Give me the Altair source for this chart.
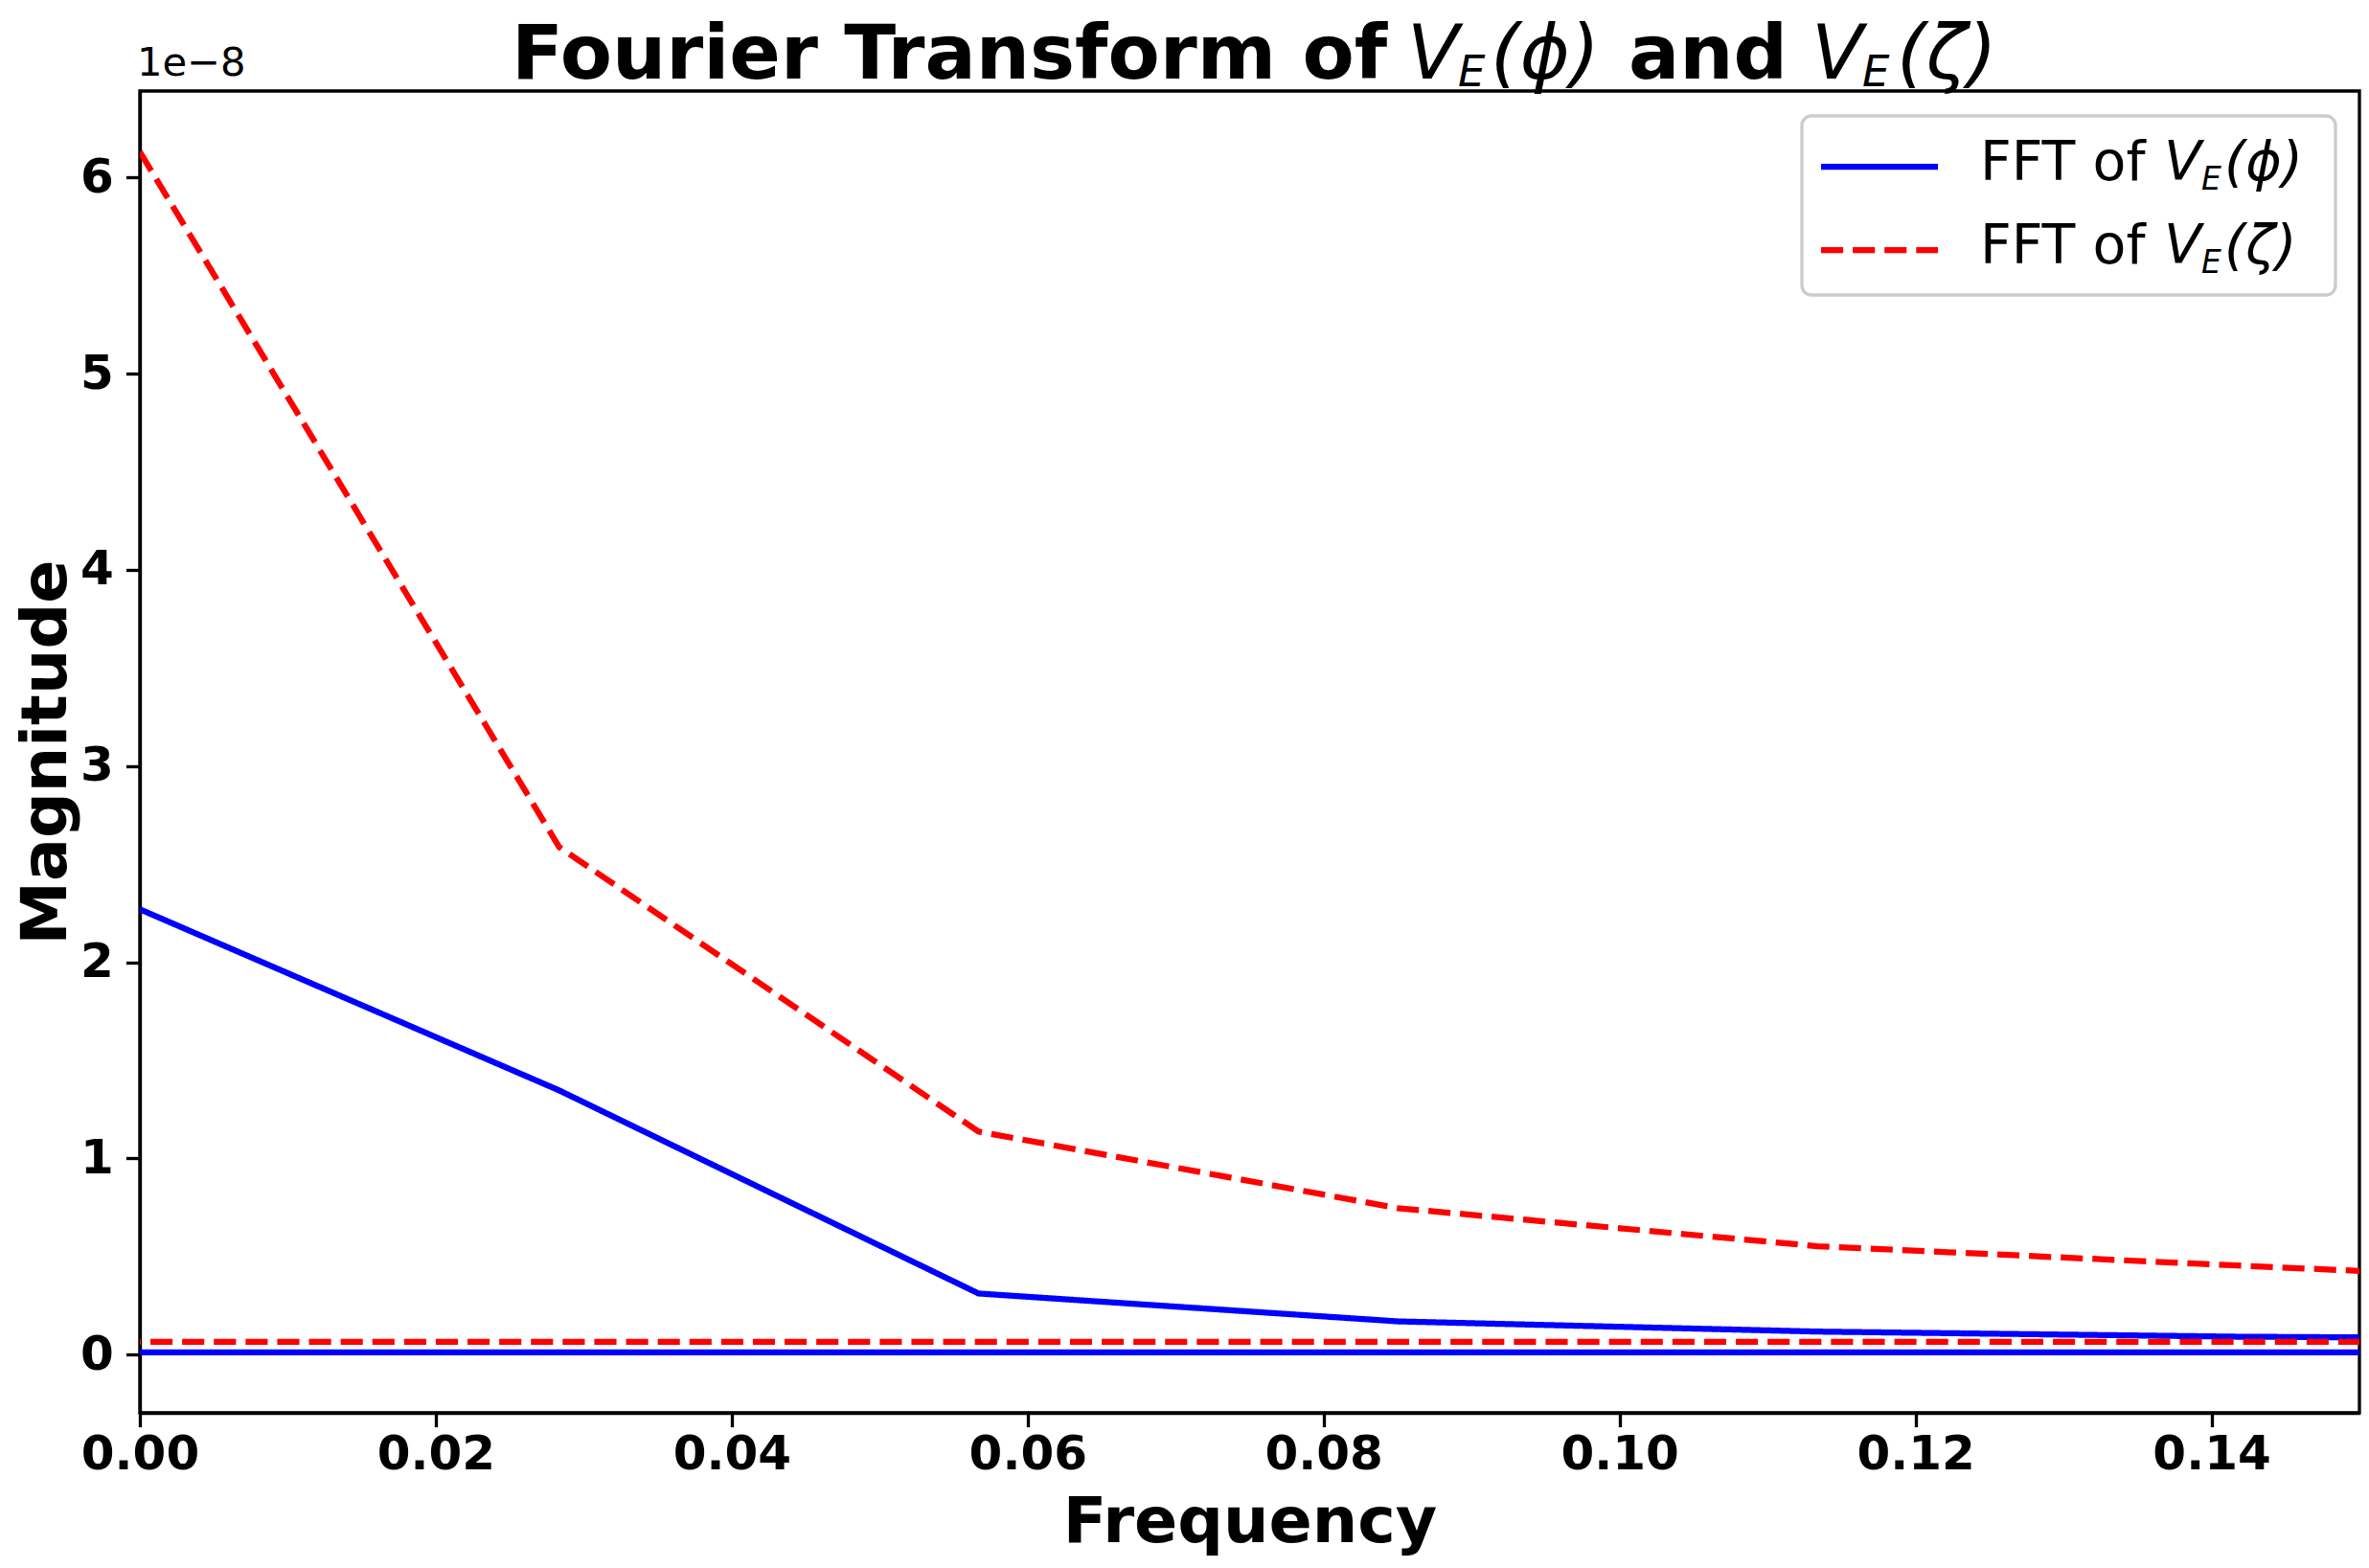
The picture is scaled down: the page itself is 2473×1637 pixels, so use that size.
import altair as alt
import pandas as pd

# ---- data (magnitudes in units of 1e-8) ----
freq = [0.0, 0.02834, 0.05668, 0.08502, 0.11336, 0.1417, 0.17004]
mag_phi = [2.27, 1.347, 0.312, 0.170, 0.118, 0.092, 0.080]
mag_zeta = [6.13, 2.587, 1.137, 0.747, 0.553, 0.455, 0.36]
# segment joining the highest positive frequency to the most negative one
wrap_freq = [0.49, -0.49]
wrap_phi = [0.0126, 0.0126]
wrap_zeta = [0.066, 0.066]
unit = 1e-8

x_ticks = [0.00, 0.02, 0.04, 0.06, 0.08, 0.10, 0.12, 0.14]
y_ticks = [0, 1, 2, 3, 4, 5, 6]
series_domain = ["phi", "zeta"]

rows = []
for f, m in zip(freq, mag_phi):
    rows.append({"freq": f, "mag": m * unit, "series": "phi", "seg": "main"})
for f, m in zip(wrap_freq, wrap_phi):
    rows.append({"freq": f, "mag": m * unit, "series": "phi", "seg": "wrap"})
for f, m in zip(freq, mag_zeta):
    rows.append({"freq": f, "mag": m * unit, "series": "zeta", "seg": "main"})
for f, m in zip(wrap_freq, wrap_zeta):
    rows.append({"freq": f, "mag": m * unit, "series": "zeta", "seg": "wrap"})
df = pd.DataFrame(rows)

W, H = 2317, 1380
FONT = "DejaVu Sans"

legend = alt.Legend(
    title=None, orient="none", legendX=1735, legendY=26,
    symbolType="M-2,0H2", symbolSize=3721, symbolStrokeWidth=6.25, symbolOffset=28,
    labelExpr="'\u00a0'", labelOffset=423, labelFontSize=57, labelFont=FONT,
    padding=19, rowPadding=25, strokeColor="#cccccc",
    cornerRadius=10,
)

lines = alt.Chart(df).mark_line(strokeWidth=6.25, clip=True, strokeJoin="round").encode(
    x=alt.X("freq:Q",
            scale=alt.Scale(domain=[0, 0.15], nice=False, zero=False),
            axis=alt.Axis(title="Frequency", values=x_ticks, format=".2f",
                          labelFlush=False, labelOverlap=False,
                          labelBaseline="alphabetic", labelPadding=44,
                          titleY=134, titleX=W / 2, titleBaseline="alphabetic")),
    y=alt.Y("mag:Q",
            scale=alt.Scale(domain=[-0.296 * unit, 6.44 * unit], nice=False, zero=False),
            axis=alt.Axis(title="Magnitude", values=[v * unit for v in y_ticks],
                          labelExpr="format(datum.value * 1e8, '.0f')",
                          labelPadding=13, labelBaseline="middle",
                          titleX=-78, titleY=H / 2, titleAlign="center",
                          titleBaseline="alphabetic")),
    color=alt.Color("series:N",
                    scale=alt.Scale(domain=series_domain, range=["#0000ff", "#ff0000"]),
                    legend=legend),
    strokeDash=alt.StrokeDash("series:N",
                              scale=alt.Scale(domain=series_domain,
                                              range=[[1, 0], [23.1, 10]]),
                              legend=legend),
    detail="seg:N",
)

one = alt.Data(values=[{"k": 1}])


def txt(text, x, y, size, weight="normal", style="normal"):
    return alt.Chart(one).mark_text(
        text=text, font=FONT, fontSize=size, fontWeight=weight, fontStyle=style,
        align="left", baseline="alphabetic", color="black",
    ).encode(x=alt.value(x), y=alt.value(y))


TS = 79     # title size
SS = 45     # title subscript size
LS = 57     # legend size
LSS = 33    # legend subscript size
TY = -13    # title baseline (relative to plot top)

texts = [
    # title: Fourier Transform of V_E(phi) and V_E(zeta)
    txt("Fourier Transform of", 388, TY, TS, "bold"),
    txt("V", 1323, TY, TS, style="italic"),
    txt("E", 1376, TY + 8, SS, style="italic"),
    txt("(\u03d5)", 1410, TY, TS, style="italic"),
    txt("and", 1554, TY, TS, "bold"),
    txt("V", 1745, TY, TS, style="italic"),
    txt("E", 1798, TY + 8, SS, style="italic"),
    txt("(\u03b6)", 1834, TY, TS, style="italic"),
    # offset text of the y axis
    txt("1e\u22128", -3, -16, 41.7),
    # legend labels
    txt("FFT of", 1921, 93, LS),
    txt("V", 2113, 93, LS, style="italic"),
    txt("E", 2152, 103, LSS, style="italic"),
    txt("(\u03d5)", 2176, 93, LS, style="italic"),
    txt("FFT of", 1921, 180, LS),
    txt("V", 2113, 180, LS, style="italic"),
    txt("E", 2152, 190, LSS, style="italic"),
    txt("(\u03b6)", 2176, 180, LS, style="italic"),
]

chart = alt.layer(lines, *texts).properties(
    width=W, height=H,
    autosize=alt.AutoSizeParams(type="none"),
    padding={"left": 138, "top": 87, "right": 2, "bottom": 150},
).configure_view(
    stroke="black", strokeWidth=3.33,
).configure_axis(
    grid=False,
    domainColor="black", domainWidth=3.33,
    tickColor="black", tickWidth=3.33, tickSize=14.6,
    labelFont=FONT, labelFontSize=50, labelFontWeight="bold", labelColor="black",
    titleFont=FONT, titleFontSize=66.7, titleFontWeight="bold", titleColor="black",
).configure_legend(
    strokeWidth=3.3,
)

chart.save("out.html", embed_options={"renderer": "svg", "actions": False})
